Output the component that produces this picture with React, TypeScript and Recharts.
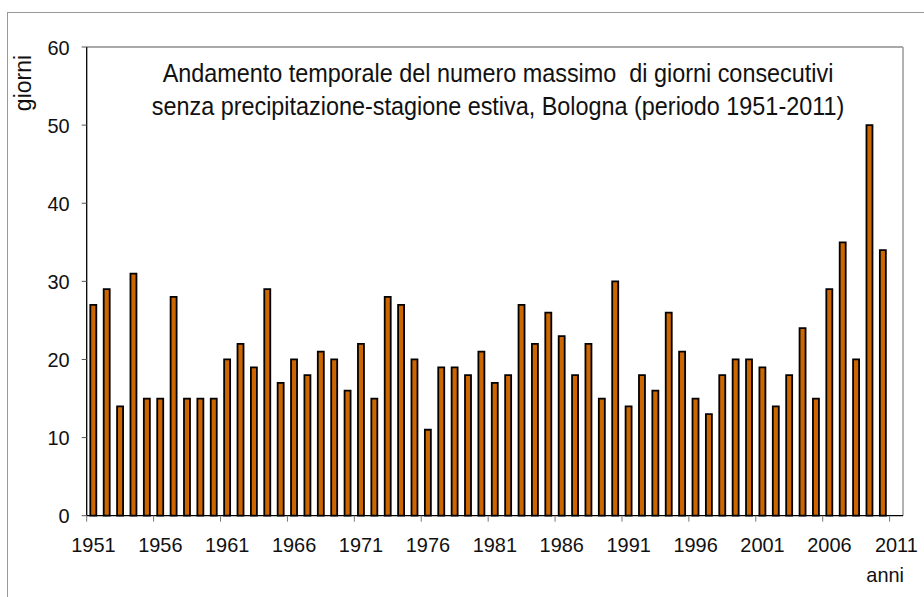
import React from 'react';
import { BarChart, Bar, XAxis, YAxis } from 'recharts';

const years = [
  1951, 1952, 1953, 1954, 1955, 1956, 1957, 1958, 1959, 1960,
  1961, 1962, 1963, 1964, 1965, 1966, 1967, 1968, 1969, 1970,
  1971, 1972, 1973, 1974, 1975, 1976, 1977, 1978, 1979, 1980,
  1981, 1982, 1983, 1984, 1985, 1986, 1987, 1988, 1989, 1990,
  1991, 1992, 1993, 1994, 1995, 1996, 1997, 1998, 1999, 2000,
  2001, 2002, 2003, 2004, 2005, 2006, 2007, 2008, 2009, 2010,
  2011,
];

const giorniValues = [
  27, 29, 14, 31, 15, 15, 28, 15, 15, 15,
  20, 22, 19, 29, 17, 20, 18, 21, 20, 16,
  22, 15, 28, 27, 20, 11, 19, 19, 18, 21,
  17, 18, 27, 22, 26, 23, 18, 22, 15, 30,
  14, 18, 16, 26, 21, 15, 13, 18, 20, 20,
  19, 14, 18, 24, 15, 29, 35, 20, 50, 34,
];

const yTicks = [0, 10, 20, 30, 40, 50, 60];
const titleLines = [
  'Andamento temporale del numero massimo  di giorni consecutivi',
  'senza precipitazione-stagione estiva, Bologna (periodo 1951-2011)',
];
const yLabel = 'giorni';
const xLabel = 'anni';

const data = years.map((y, i) => ({
  year: String(y),
  giorni: i < giorniValues.length ? giorniValues[i] : null,
}));

const FONT = "'Liberation Sans', Arial, sans-serif";

const PLOT = { left: 86.7, top: 47, right: 903, bottom: 515.7 };

const XTick = (props: any) => {
  const { x, y, payload } = props;
  const off = payload && payload.offset != null ? payload.offset : 6.69;
  return (
    <g>
      <line x1={x - off} x2={x - off} y1={y - 6} y2={y} stroke="#777" strokeWidth={1} />
      <text
        transform={`translate(${x},${y + 30}) scale(0.95,1)`}
        textAnchor="middle"
        fontSize={21}
        fontFamily={FONT}
        fill="#111"
      >
        {payload.value}
      </text>
    </g>
  );
};

const YTick = (props: any) => {
  const { x, y, payload } = props;
  return (
    <text
      transform={`translate(${x},${y + 7.5}) scale(0.95,1)`}
      textAnchor="end"
      fontSize={21}
      fontFamily={FONT}
      fill="#111"
    >
      {payload.value}
    </text>
  );
};

export default function App() {
  return (
    <div style={{ position: 'absolute', left: 0, top: 0, width: 924, height: 597, background: '#fff', overflow: 'hidden' }}>
      <div
        style={{
          position: 'absolute',
          left: 7,
          top: 12,
          width: 940,
          height: 620,
          borderTop: '1px solid #999',
          borderLeft: '1px solid #999',
        }}
      />
      <svg
        width={924}
        height={597}
        style={{ position: 'absolute', left: 0, top: 0 }}
      >
        <line x1={PLOT.left} x2={PLOT.right} y1={PLOT.top} y2={PLOT.top} stroke="#555" strokeWidth={1.2} />
        <line x1={PLOT.right} x2={PLOT.right} y1={PLOT.top} y2={PLOT.bottom} stroke="#aaa" strokeWidth={1.8} />
      </svg>
      <div style={{ position: 'absolute', left: 0, top: 0 }}>
        <BarChart
          width={924}
          height={597}
          data={data}
          margin={{ top: 47, right: 21, bottom: 41.3, left: 26.7 }}
          barCategoryGap="27%"
        >
          <XAxis
            dataKey="year"
            interval={4}
            tickLine={false}
            tickSize={6}
            tickMargin={0}
            height={40}
            axisLine={{ stroke: '#000', strokeWidth: 1.3 }}
            tick={<XTick />}
          />
          <YAxis
            domain={[0, 60]}
            ticks={yTicks}
            width={60}
            tickSize={5}
            tickMargin={12}
            tickLine={{ stroke: '#555' }}
            axisLine={{ stroke: '#000', strokeWidth: 1.3 }}
            tick={<YTick />}
          />
          <Bar
            dataKey="giorni"
            fill="#CC6600"
            stroke="#000"
            strokeWidth={1.8}
            isAnimationActive={false}
          />
        </BarChart>
      </div>
      <svg
        width={924}
        height={597}
        style={{ position: 'absolute', left: 0, top: 0, pointerEvents: 'none' }}
      >
        {titleLines.map((line, i) => (
          <text
            key={i}
            transform={`translate(498,${81.7 + i * 33}) scale(0.9,1)`}
            textAnchor="middle"
            fontSize={26}
            fontFamily={FONT}
            fill="#111"
            style={{ whiteSpace: 'pre' }}
          >
            {line}
          </text>
        ))}
        <text
          transform="translate(31,83) rotate(-90)"
          textAnchor="middle"
          fontSize={23}
          fontFamily={FONT}
          fill="#111"
        >
          {yLabel}
        </text>
        <text
          transform="translate(904,581.7) scale(0.95,1)"
          textAnchor="end"
          fontSize={21}
          fontFamily={FONT}
          fill="#111"
        >
          {xLabel}
        </text>
      </svg>
    </div>
  );
}
